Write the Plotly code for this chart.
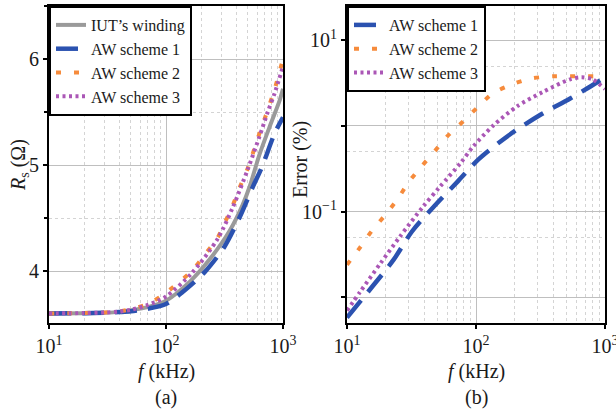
import plotly.graph_objects as go

# ---------------- data ----------------
# (a) winding resistance Rs (Ohm) vs frequency (kHz)
f_iut = [10, 20, 30, 40, 50, 70, 100, 160, 240, 350, 450, 520, 630, 780, 930, 1000]
rs_iut = [3.60, 3.603, 3.607, 3.615, 3.63, 3.66, 3.72, 3.90, 4.12, 4.38, 4.62, 4.80, 5.10, 5.38, 5.60, 5.72]

f_a1 = [10, 20, 30, 40, 50, 70, 100, 138, 214, 316, 427, 550, 660, 850, 1000]
rs_a1 = [3.60, 3.603, 3.607, 3.613, 3.62, 3.645, 3.69, 3.80, 3.99, 4.23, 4.51, 4.79, 4.98, 5.30, 5.45]

f_a2 = [10, 20, 30, 40, 50, 70, 93, 166, 209, 275, 316, 372, 427, 500, 630, 741, 850, 1000]
rs_a2 = [3.60, 3.605, 3.61, 3.62, 3.64, 3.69, 3.77, 4.00, 4.14, 4.31, 4.45, 4.62, 4.79, 4.97, 5.30, 5.52, 5.72, 6.00]

f_a3 = [10, 20, 30, 40, 50, 70, 100, 166, 275, 372, 500, 630, 741, 850, 1000]
rs_a3 = [3.60, 3.604, 3.609, 3.618, 3.635, 3.68, 3.76, 3.98, 4.30, 4.60, 4.96, 5.27, 5.50, 5.68, 5.93]

# (b) error (%) vs frequency (kHz)
f_b1 = [10, 15.5, 23, 32, 50, 72, 105, 182, 316, 537, 891, 1000]
err_b1 = [0.0058, 0.013, 0.0275, 0.059, 0.126, 0.224, 0.41, 0.79, 1.35, 2.09, 3.3, 3.7]

f_b2 = [10, 12.6, 15.5, 19.5, 24.5, 30, 38, 48, 60, 79, 105, 135, 195, 275, 400, 590, 830, 1000]
err_b2 = [0.024, 0.038, 0.059, 0.089, 0.138, 0.22, 0.34, 0.51, 0.76, 1.12, 1.7, 2.4, 3.1, 3.6, 3.8, 3.8, 3.8, 3.8]

f_b3 = [10, 12.6, 18.2, 25.7, 39, 52.5, 76, 95, 135, 209, 331, 537, 660, 800, 1000]
err_b3 = [0.007, 0.0115, 0.025, 0.051, 0.115, 0.195, 0.37, 0.575, 1.0, 1.7, 2.5, 3.5, 3.7, 3.5, 2.7]

x_tickvals = [10, 100, 1000]
x_ticktext = ["10<sup>1</sup>", "10<sup>2</sup>", "10<sup>3</sup>"]
ya_tickvals = [4, 5, 6]
yb_tickvals = [0.01, 0.1, 1, 10]
yb_ticktext = ["", "10<sup>\u22121</sup>", "", "10<sup>1</sup>"]

# ---------------- styles ----------------
FONT = "Liberation Serif, Times New Roman, serif"
TXT = "#1a1a1a"
C_GRAY = "#9a9a9a"
C_BLUE = "#2b52b0"
C_ORANGE = "#f68b3c"
C_PURPLE = "#ab57b6"

sty = {
    "iut": dict(color=C_GRAY, width=4, dash="solid"),
    "s1": dict(color=C_BLUE, width=4.5, dash="22px,11px"),
    "s2": dict(color=C_ORANGE, width=4, dash="5px,13px"),
    "s3": dict(color=C_PURPLE, width=4, dash="3px,3.5px"),
}

fig = go.Figure()

def add(x, y, name, key, xa, ya, legend):
    fig.add_trace(go.Scatter(
        x=x, y=y, name=name, mode="lines", line=dict(shape="spline", smoothing=0.8, **sty[key]),
        xaxis=xa, yaxis=ya, legend=legend, showlegend=True))

add(f_iut, rs_iut, "IUT\u2019s winding", "iut", "x", "y", "legend")
add(f_a1, rs_a1, "AW scheme 1", "s1", "x", "y", "legend")
add(f_a2, rs_a2, "AW scheme 2", "s2", "x", "y", "legend")
add(f_a3, rs_a3, "AW scheme 3", "s3", "x", "y", "legend")
add(f_b1, err_b1, "AW scheme 1", "s1", "x2", "y2", "legend2")
add(f_b2, err_b2, "AW scheme 2", "s2", "x2", "y2", "legend2")
add(f_b3, err_b3, "AW scheme 3", "s3", "x2", "y2", "legend2")

W, H = 616, 411
xl0, xl1 = 49 / W, 283 / W
xr0, xr1 = 347 / W, 605 / W
yb, yt = 1 - 323 / H, 1 - 6 / H

minor_x = [v * m for m in (10, 100) for v in range(2, 10)]
grid_major = "#bfbfbf"
grid_minor = "#d4d4d4"
tickfont = dict(family=FONT, size=20, color=TXT)

common_axis = dict(
    showline=True, linecolor="black", linewidth=2, mirror=True,
    showgrid=True, gridcolor=grid_major, gridwidth=1.2,
    ticks="outside", ticklen=4, tickcolor="black", tickwidth=1.5,
    tickfont=tickfont, zeroline=False, automargin=False,
    ticklabeloverflow="allow",
)
minor_dot = dict(showgrid=True, gridcolor=grid_minor, griddash="dot", gridwidth=1)

legend_common = dict(xanchor="left", yanchor="top",
                     bgcolor="white", bordercolor="black", borderwidth=2,
                     font=dict(family=FONT, size=16, color=TXT),
                     tracegroupgap=0, itemwidth=30)

def ann(text, x, y, angle=0, size=20):
    return dict(text=text, x=x, y=y, xref="paper", yref="paper", showarrow=False,
                textangle=angle, xanchor="center", yanchor="middle",
                font=dict(family=FONT, size=size, color=TXT))

fig.update_layout(
    width=W, height=H, margin=dict(l=0, r=0, t=0, b=0),
    paper_bgcolor="white", plot_bgcolor="white",
    font=dict(family=FONT, size=18, color=TXT),
    xaxis=dict(domain=[xl0, xl1], anchor="y", type="log", range=[1, 3],
               tickmode="array", tickvals=x_tickvals, ticktext=x_ticktext,
               minor=dict(tickmode="array", tickvals=minor_x, ticks="", **minor_dot),
               **common_axis),
    yaxis=dict(domain=[yb, yt], anchor="x", range=[3.51, 6.5],
               tickmode="array", tickvals=ya_tickvals,
               minor=dict(tickmode="array", tickvals=[3.5, 4.5, 5.5, 6.5], ticks="outside",
                          ticklen=3, tickcolor="black", **minor_dot),
               **common_axis),
    xaxis2=dict(domain=[xr0, xr1], anchor="y2", type="log", range=[1, 3],
                tickmode="array", tickvals=x_tickvals, ticktext=x_ticktext,
                minor=dict(tickmode="array", tickvals=minor_x, ticks="", **minor_dot),
                **common_axis),
    yaxis2=dict(domain=[yb, yt], anchor="x2", type="log", range=[-2.30, 1.40],
                tickmode="array", tickvals=yb_tickvals, ticktext=yb_ticktext,
                minor=dict(tickmode="array", tickvals=[0.05, 0.5, 5], ticks="", **minor_dot),
                **common_axis),
    legend=dict(x=xl0, y=yt, **legend_common),
    legend2=dict(x=xr0, y=yt, **legend_common),
    annotations=[
        ann("<i>f</i> (kHz)", (xl0 + xl1) / 2, 1 - 371 / H),
        ann("<i>f</i> (kHz)", (xr0 + xr1) / 2, 1 - 371 / H),
        ann("(a)", (xl0 + xl1) / 2, 1 - 397 / H),
        ann("(b)", (xr0 + xr1) / 2, 1 - 397 / H),
        ann("<i>R</i><sub>s</sub> (\u03a9)", 19 / W, 1 - 165 / H, angle=-90),
        ann("Error (%)", 300 / W, 1 - 160 / H, angle=-90),
    ],
)

fig.write_html("out.html")
